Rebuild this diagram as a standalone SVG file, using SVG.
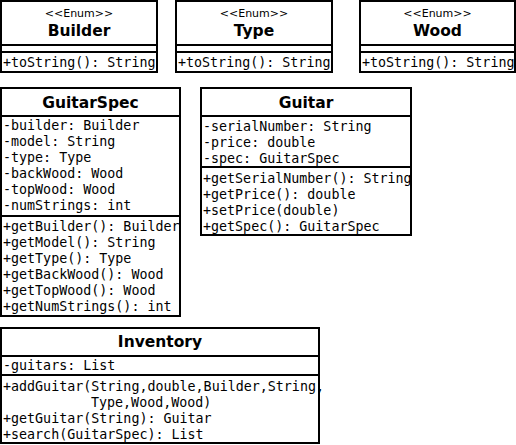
<svg xmlns="http://www.w3.org/2000/svg" width="516" height="445" viewBox="0 0 516 445">
<style>
.box{fill:#fff;stroke:#000;stroke-width:2}
.ln{stroke:#000;stroke-width:2}
.st{font-family:"DejaVu Sans",sans-serif;font-size:11px;text-anchor:middle;fill:#000}
.tt{font-family:"DejaVu Sans",sans-serif;font-size:15.5px;font-weight:bold;text-anchor:middle;fill:#000}
.m{font-family:"DejaVu Sans Mono",monospace;font-size:13.33px;fill:#000}
</style>
<rect width="516" height="445" fill="#fff"/>
<g id="Builder">
<rect class="box" x="1" y="1" width="156" height="71"/>
<line class="ln" x1="1" y1="45" x2="157" y2="45"/>
<line class="ln" x1="1" y1="52" x2="157" y2="52"/>
<text class="st" x="79" y="17">&lt;&lt;Enum&gt;&gt;</text>
<text class="tt" x="79" y="36">Builder</text>
<text class="m" x="3" y="67">+toString(): String</text>
</g>
<g id="Type">
<rect class="box" x="176" y="1" width="156" height="71"/>
<line class="ln" x1="176" y1="45" x2="332" y2="45"/>
<line class="ln" x1="176" y1="52" x2="332" y2="52"/>
<text class="st" x="254" y="17">&lt;&lt;Enum&gt;&gt;</text>
<text class="tt" x="254" y="36">Type</text>
<text class="m" x="178" y="67">+toString(): String</text>
</g>
<g id="Wood">
<rect class="box" x="360" y="1" width="155" height="71"/>
<line class="ln" x1="360" y1="45" x2="515" y2="45"/>
<line class="ln" x1="360" y1="52" x2="515" y2="52"/>
<text class="st" x="437.5" y="17">&lt;&lt;Enum&gt;&gt;</text>
<text class="tt" x="437.5" y="36">Wood</text>
<text class="m" x="362" y="67">+toString(): String</text>
</g>
<g id="GuitarSpec">
<rect class="box" x="1" y="88" width="179" height="228"/>
<line class="ln" x1="1" y1="116" x2="180" y2="116"/>
<line class="ln" x1="1" y1="216" x2="180" y2="216"/>
<text class="tt" x="90.5" y="108">GuitarSpec</text>
<text class="m" x="3" y="130">-builder: Builder</text>
<text class="m" x="3" y="146">-model: String</text>
<text class="m" x="3" y="162">-type: Type</text>
<text class="m" x="3" y="178">-backWood: Wood</text>
<text class="m" x="3" y="194">-topWood: Wood</text>
<text class="m" x="3" y="210">-numStrings: int</text>
<text class="m" x="3" y="231">+getBuilder(): Builder</text>
<text class="m" x="3" y="247">+getModel(): String</text>
<text class="m" x="3" y="263">+getType(): Type</text>
<text class="m" x="3" y="279">+getBackWood(): Wood</text>
<text class="m" x="3" y="295">+getTopWood(): Wood</text>
<text class="m" x="3" y="311">+getNumStrings(): int</text>
</g>
<g id="Guitar">
<rect class="box" x="201" y="88" width="210" height="147"/>
<line class="ln" x1="201" y1="116" x2="411" y2="116"/>
<line class="ln" x1="201" y1="167" x2="411" y2="167"/>
<text class="tt" x="306" y="108">Guitar</text>
<text class="m" x="203" y="131">-serialNumber: String</text>
<text class="m" x="203" y="147">-price: double</text>
<text class="m" x="203" y="163">-spec: GuitarSpec</text>
<text class="m" x="203" y="183">+getSerialNumber(): String</text>
<text class="m" x="203" y="199">+getPrice(): double</text>
<text class="m" x="203" y="215">+setPrice(double)</text>
<text class="m" x="203" y="231">+getSpec(): GuitarSpec</text>
</g>
<g id="Inventory">
<rect class="box" x="1" y="328" width="318" height="115"/>
<line class="ln" x1="1" y1="356" x2="319" y2="356"/>
<line class="ln" x1="1" y1="375" x2="319" y2="375"/>
<text class="tt" x="160" y="347">Inventory</text>
<text class="m" x="3" y="370">-guitars: List</text>
<text class="m" x="3" y="391">+addGuitar(String,double,Builder,String,</text>
<text class="m" x="91" y="407">Type,Wood,Wood)</text>
<text class="m" x="3" y="423">+getGuitar(String): Guitar</text>
<text class="m" x="3" y="439">+search(GuitarSpec): List</text>
</g>
<g id="connectors"></g>
</svg>
